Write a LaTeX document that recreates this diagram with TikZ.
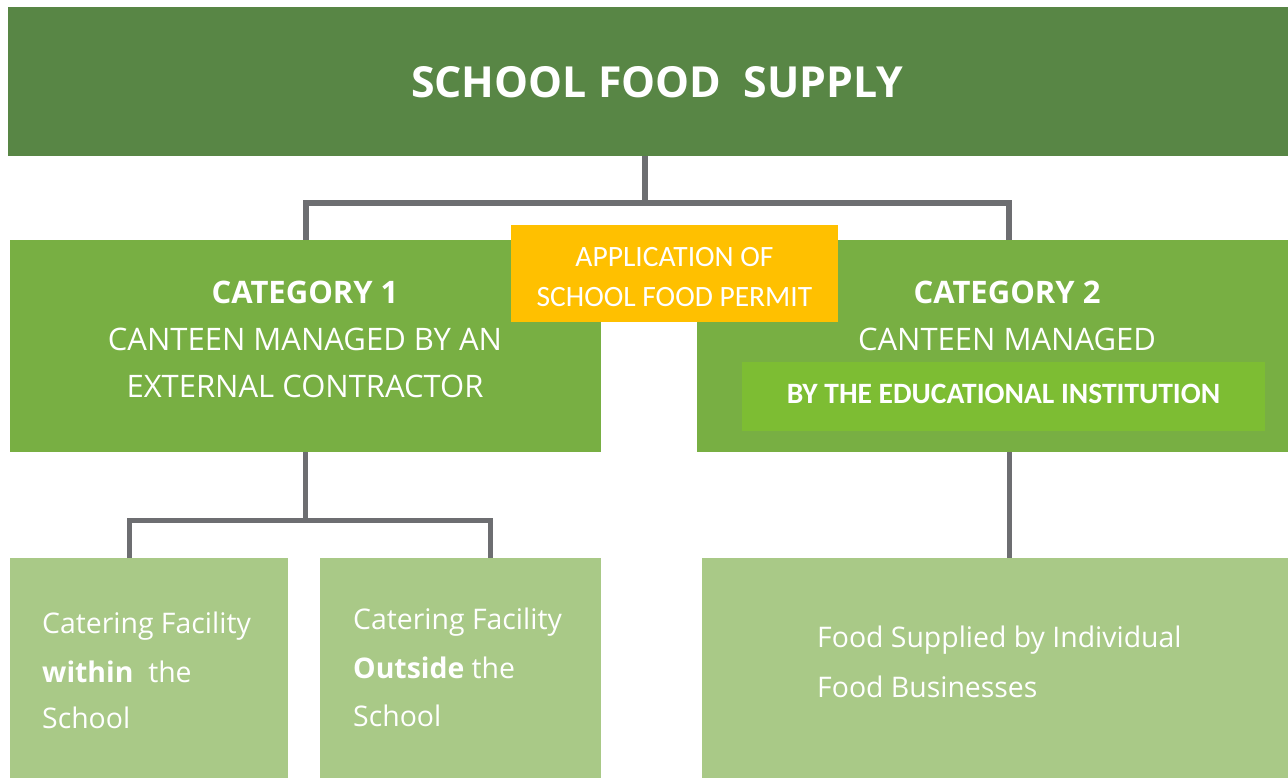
\documentclass[tikz,border=0pt]{standalone}
\usepackage{fontspec}
\setmainfont{Open Sans}
\newfontfamily\calib{Carlito}
\definecolor{topgreen}{HTML}{588645}
\definecolor{catgreen}{HTML}{78AF43}
\definecolor{innergreen}{HTML}{7DBD33}
\definecolor{lightgreen}{HTML}{A9C987}
\definecolor{conngray}{HTML}{6D6E71}
\definecolor{permit}{HTML}{FFC000}
\tikzset{
  box/.style={rectangle, inner sep=0pt, outer sep=0pt},
  conn/.style={draw=conngray, line width=6pt, line join=miter},
  conns/.style={draw=conngray, line width=5pt, line join=miter},
  wtxt/.style={text=white, inner sep=0pt, anchor=center},
  ltxt/.style={text=white, inner sep=0pt, anchor=west},
}
\begin{document}
\begin{tikzpicture}[x=1pt,y=-1pt]
\useasboundingbox (0,0) rectangle (1288,778);
\fill[white] (0,0) rectangle (1288,778);
% junction coordinates
\coordinate (j1) at (645,203);
\coordinate (c2x) at (1009,0);
\coordinate (j2) at (305.5,520);
\coordinate (ax) at (129,0);
\coordinate (bx) at (490,0);
% boxes
\node[box, fill=topgreen, minimum width=1280pt, minimum height=149pt] (top) at (648,81.5) {};
\node[box, fill=catgreen, minimum width=591pt, minimum height=212pt] (cat1) at (305.5,346) {};
\node[box, fill=catgreen, minimum width=591pt, minimum height=212pt] (cat2) at (992.5,346) {};
\node[box, fill=lightgreen, minimum width=278pt, minimum height=220pt] (a) at (149,668) {};
\node[box, fill=lightgreen, minimum width=281pt, minimum height=220pt] (b) at (460.5,668) {};
\node[box, fill=lightgreen, minimum width=586pt, minimum height=220pt] (c) at (995,668) {};
% connectors
\draw[conn] (top.south -| j1) -- (j1);
\draw[conn] (cat1.north) |- (j1) -| (cat2.north -| c2x);
\draw[conns] (cat1.south) -- (j2);
\draw[conns] (a.north -| ax) |- (j2) -| (b.north -| bx);
\draw[conns] (cat2.south -| c2x) -- (c.north -| c2x);
% overlays
\node[box, fill=permit, minimum width=327pt, minimum height=97pt] (permitbox) at (674.5,273.5) {};
\node[box, fill=innergreen, minimum width=523pt, minimum height=69pt] (inner) at (1003.5,396.5) {};
% texts
\node[wtxt, font=\fontsize{42.8}{50}\selectfont\bfseries] (toptxt) at (657,82) {SCHOOL FOOD\ \ SUPPLY};
\node[wtxt, font=\fontsize{31}{36}\selectfont\bfseries] (c1a) at (305,292) {CATEGORY 1};
\node[wtxt, font=\fontsize{31}{36}\selectfont] (c1b) at (305,339) {CANTEEN MANAGED BY AN};
\node[wtxt, font=\fontsize{31}{36}\selectfont] (c1c) at (305,386) {EXTERNAL CONTRACTOR};
\node[wtxt, font=\fontsize{31}{36}\selectfont\bfseries] (c2a) at (1007,292) {CATEGORY 2};
\node[wtxt, font=\fontsize{31}{36}\selectfont] (c2b) at (1007,339) {CANTEEN MANAGED};
\node[wtxt, font=\calib\fontsize{29.5}{34}\selectfont] (p1) at (674.5,257) {APPLICATION OF};
\node[wtxt, font=\calib\fontsize{29.5}{34}\selectfont] (p2) at (674.5,297) {SCHOOL FOOD PERMIT};
\node[wtxt, font=\calib\fontsize{29.5}{34}\selectfont\bfseries] (inn) at (1003.5,394) {BY THE EDUCATIONAL INSTITUTION};
\node[ltxt, font=\fontsize{28.4}{34}\selectfont] (a1) at (42,626) {Catering Facility};
\node[ltxt, font=\fontsize{28.4}{34}\selectfont] (a2) at (42,672) {\textbf{within}\ \ the};
\node[ltxt, font=\fontsize{28.4}{34}\selectfont] (a3) at (42,718) {School};
\node[ltxt, font=\fontsize{28.4}{34}\selectfont] (b1) at (353,622) {Catering Facility};
\node[ltxt, font=\fontsize{28.4}{34}\selectfont] (b2) at (353,668) {\textbf{Outside} the};
\node[ltxt, font=\fontsize{28.4}{34}\selectfont] (b3) at (353,716) {School};
\node[ltxt, font=\fontsize{28.4}{34}\selectfont] (c1) at (817,640) {Food Supplied by Individual};
\node[ltxt, font=\fontsize{28.4}{34}\selectfont] (c2) at (817,687) {Food Businesses};
\end{tikzpicture}
\end{document}
